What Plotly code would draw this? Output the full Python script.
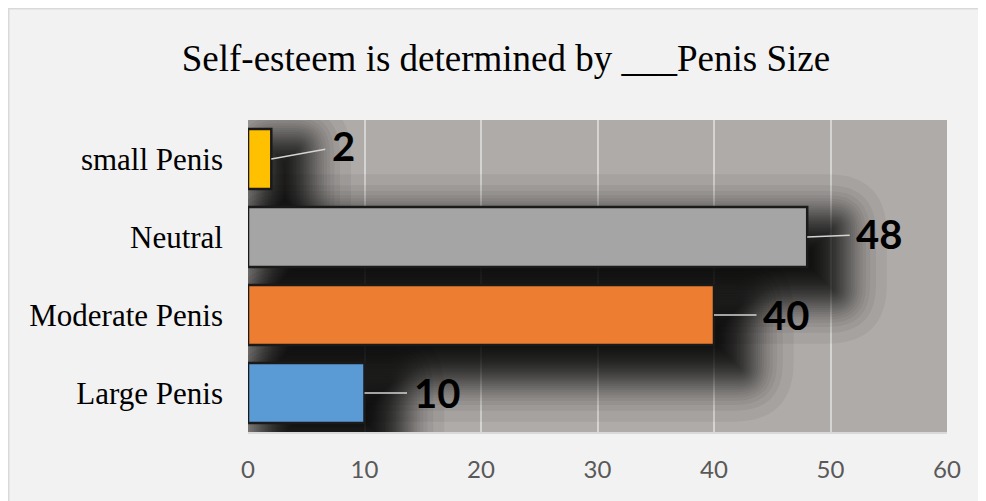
import plotly.graph_objects as go
from statistics import NormalDist

# ---- data ----
categories = ["small Penis", "Neutral", "Moderate Penis", "Large Penis"]
values = [2, 48, 40, 10]
bar_colors = ["#FFC000", "#A5A5A5", "#ED7D31", "#5B9BD5"]
label_texts = [str(v) for v in values]
x_ticks = [0, 10, 20, 30, 40, 50, 60]
title_text = "Self-esteem is determined by ___Penis Size"

# ---- layout geometry ----
W, H = 986, 501
L, R, T, B = 240, 47, 112, 77
pw, ph = W - L - R, H - T - B
sx = 60 / pw          # data units per px (x)
sy = 4 / ph           # category units per px (y)
half = 0.385          # half bar thickness in category units
pos = list(range(len(categories)))

fig = go.Figure()
fig.add_trace(go.Bar(
    y=pos, x=values, orientation="h",
    marker=dict(color=bar_colors, line=dict(color="#1a1a1a", width=2.5)),
    width=2 * half, hoverinfo="skip",
))


def rounded_rect(x0, x1, y0, y1, rx, ry):
    if rx <= 0 or ry <= 0:
        return f"M{x0},{y0} L{x1},{y0} L{x1},{y1} L{x0},{y1} Z"
    return (f"M{x0 + rx},{y0} L{x1 - rx},{y0} Q{x1},{y0} {x1},{y0 + ry} "
            f"L{x1},{y1 - ry} Q{x1},{y1} {x1 - rx},{y1} "
            f"L{x0 + rx},{y1} Q{x0},{y1} {x0},{y1 - ry} "
            f"L{x0},{y0 + ry} Q{x0},{y0} {x0 + rx},{y0} Z")


shapes = []
# soft drop shadow: stacked translucent rounded rectangles, gaussian-spaced
dxp, dyp, sigma, n, alpha = 25, 22, 24, 44, 0.05
nd = NormalDist()
for i, v in enumerate(values):
    for k in range(n):
        e = sigma * nd.inv_cdf((k + 0.5) / n)
        x0 = (dxp - e) * sx
        x1 = v + (dxp + e) * sx
        y0 = i - half + (dyp - e) * sy
        y1 = i + half + (dyp + e) * sy
        if x1 <= x0 or y1 <= y0:
            continue
        rpx = max(e, 0) * 1.1
        rx = min(rpx * sx, (x1 - x0) / 2)
        ry = min(rpx * sy, (y1 - y0) / 2)
        shapes.append(dict(type="path", xref="x", yref="y",
                           path=rounded_rect(x0, x1, y0, y1, rx, ry),
                           fillcolor="black", opacity=alpha,
                           line=dict(width=0), layer="between"))

# light frame line along the top and left edge of the figure
shapes.append(dict(type="line", xref="paper", yref="paper",
                   x0=-L / pw, x1=(W - L) / pw, y0=(ph + T - 0.75) / ph, y1=(ph + T - 0.75) / ph,
                   line=dict(color="#d9d9d9", width=1.5)))
shapes.append(dict(type="line", xref="paper", yref="paper",
                   x0=(-L + 0.75) / pw, x1=(-L + 0.75) / pw, y0=-B / ph, y1=(ph + T) / ph,
                   line=dict(color="#d9d9d9", width=1.5)))

label_dy = [-13, -3, 0, 0]
annotations = []
for i, (p, v, t) in enumerate(zip(pos, values, label_texts)):
    annotations.append(dict(
        x=v, y=p, xref="x", yref="y", text="<b>" + t + "</b>",
        showarrow=True, arrowhead=0, arrowwidth=1.5, arrowcolor="#d4d4d4",
        ax=72, ay=label_dy[i], borderpad=6,
        font=dict(family="Lato", size=40, color="black"),
    ))

fig.update_layout(
    width=W, height=H,
    margin=dict(l=L, r=R, t=T, b=B, pad=0),
    paper_bgcolor="#f2f2f2",
    plot_bgcolor="#afaba9",
    showlegend=False,
    title=dict(text=title_text, x=0.505, xanchor="center", y=1 - 50 / H,
               yanchor="middle", yref="container",
               font=dict(family="Liberation Serif", size=37, color="black")),
    xaxis=dict(range=[0, 60], tickvals=x_ticks, ticktext=[str(t) for t in x_ticks],
               showgrid=True, gridcolor="#d6d4d3", gridwidth=1.5,
               zeroline=False, showline=True, linecolor="#d9d9d9", linewidth=1.5,
               ticks="", ticklen=0, ticklabelstandoff=15,
               tickfont=dict(family="Lato", size=24, color="#595959"),
               fixedrange=True),
    yaxis=dict(tickvals=pos, ticktext=categories,
               range=[3.5, -0.5], showgrid=False, zeroline=False, showline=False,
               ticks="", ticklabelstandoff=24,
               tickfont=dict(family="Liberation Serif", size=31, color="black"),
               fixedrange=True),
    shapes=shapes,
    annotations=annotations,
)

fig.write_html("out.html")
